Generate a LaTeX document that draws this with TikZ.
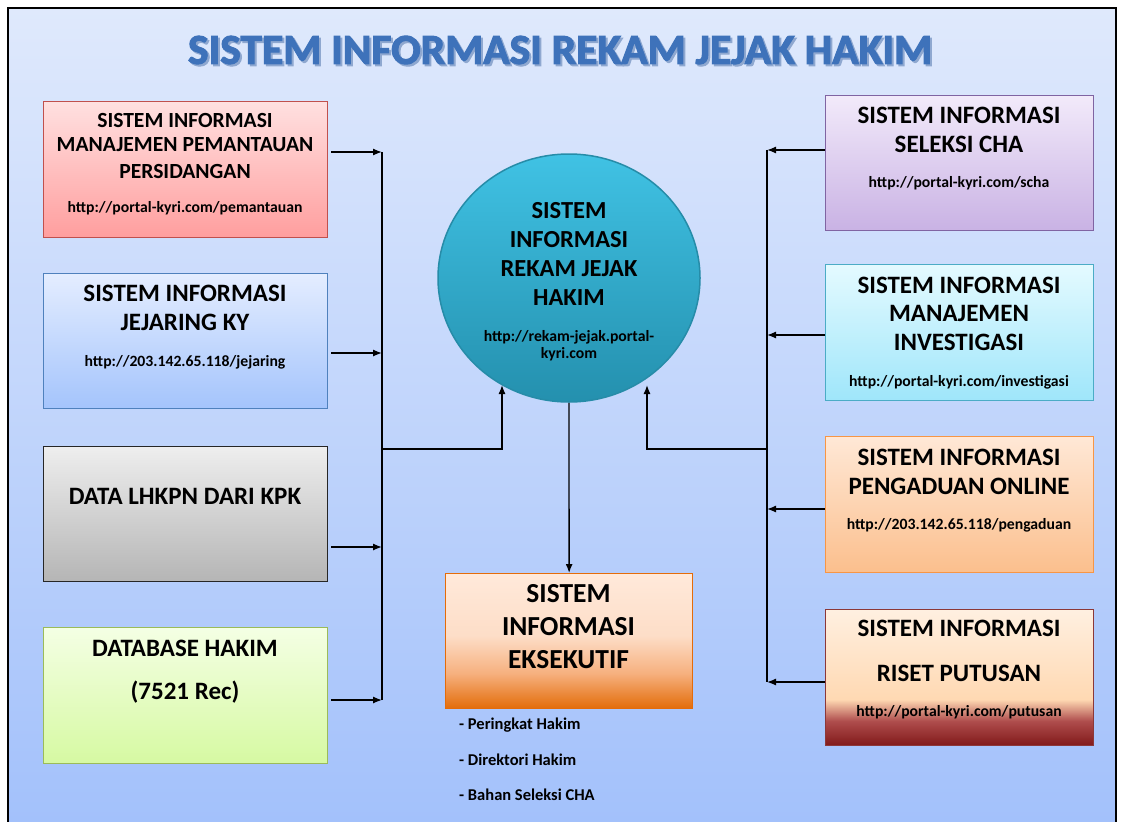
\documentclass[tikz,border=0pt]{standalone}
\usepackage{fontspec}
\usepackage{graphicx}
\setmainfont{Carlito}
\newfontfamily\titlefont[BoldFont={Carlito Bold}, BoldFeatures={FakeBold=2.5}]{Carlito}
\usetikzlibrary{shapes.geometric,arrows.meta,calc}
\definecolor{bgtop}{HTML}{DFE9FC}
\definecolor{bgbot}{HTML}{A3C1FB}
\definecolor{titleblue}{HTML}{3E72BA}
\definecolor{titleshadow}{HTML}{8FA8D0}
\pgfdeclareverticalshading{rsshade}{100bp}{color(0bp)=(red!45!black!90!white); color(25bp)=(red!45!black!90!white); color(34bp)=(red!55!black!70!white); color(42bp)=(orange!30!white); color(75bp)=(orange!12!white); color(100bp)=(orange!12!white)}
\definecolor{exdark}{HTML}{E36C09}
\definecolor{exmid}{HTML}{F6B07E}
\definecolor{extop}{HTML}{FFE9DA}
\pgfdeclareverticalshading{exshade}{100bp}{color(0bp)=(exdark); color(25bp)=(exdark); color(38bp)=(exmid); color(52bp)=(extop!80!exmid); color(75bp)=(extop); color(100bp)=(extop)}
\begin{document}
\begin{tikzpicture}[x=1pt,y=-1pt,
  box/.style={draw, line width=1.3pt, rectangle, inner sep=0pt, anchor=north west},
  hd/.style={font=\bfseries\fontsize{25}{28}\selectfont, inner sep=0pt},
  hds/.style={font=\bfseries\fontsize{21.6}{25}\selectfont, inner sep=0pt},
  url/.style={font=\bfseries\fontsize{15.7}{18}\selectfont, inner sep=0pt},
  bul/.style={font=\bfseries\fontsize{16.5}{19}\selectfont, inner sep=0pt, anchor=west},
  arr/.style={-{Latex[length=9pt,width=7pt]}, line width=1.3pt},
  bus/.style={line width=1.3pt}]
\useasboundingbox (0,0) rectangle (1122,822);
\fill[white] (0,0) rectangle (1122,822);
\shade[top color=bgtop, bottom color=bgbot] (8,8) rectangle (1116,822);
\draw[line width=1.2pt] (8,822) -- (8,8) -- (1116,8) -- (1116,822);

% title
\node[text=titleshadow, font=\titlefont\bfseries, inner sep=0pt] at (562,52) {\resizebox{744pt}{28pt}{SISTEM INFORMASI REKAM JEJAK HAKIM}};
\node[text=titleblue, font=\titlefont\bfseries, inner sep=0pt] (title) at (560,50) {\resizebox{744pt}{28pt}{SISTEM INFORMASI REKAM JEJAK HAKIM}};

% left boxes
\node[box, draw={rgb,255:red,192;green,80;blue,77}, top color={rgb,255:red,255;green,224;blue,224}, bottom color={rgb,255:red,255;green,158;blue,158}, minimum width=284, minimum height=136] (b1) at (43,101) {};
\node[hds] (b1a) at (185,120) {SISTEM INFORMASI};
\node[hds] (b1b) at (185,145) {MANAJEMEN PEMANTAUAN};
\node[hds] (b1c) at (185,171) {PERSIDANGAN};
\node[url] (b1u) at (185,208) {http://portal-kyri.com/pemantauan};

\node[box, draw={rgb,255:red,79;green,129;blue,189}, top color={rgb,255:red,228;green,237;blue,255}, bottom color={rgb,255:red,164;green,196;blue,252}, minimum width=284, minimum height=135] (b2) at (43,273) {};
\node[hd] (b2a) at (185,293) {SISTEM INFORMASI};
\node[hd] (b2b) at (185,322) {JEJARING KY};
\node[url] (b2u) at (185,362) {http://203.142.65.118/jejaring};

\node[box, draw={rgb,255:red,38;green,38;blue,38}, top color={rgb,255:red,238;green,238;blue,238}, bottom color={rgb,255:red,181;green,181;blue,181}, minimum width=284, minimum height=135] (b3) at (43,446) {};
\node[hd] (b3a) at (185,496) {DATA LHKPN DARI KPK};

\node[box, draw={rgb,255:red,155;green,187;blue,89}, top color={rgb,255:red,244;green,255;blue,228}, bottom color={rgb,255:red,214;green,249;blue,162}, minimum width=284, minimum height=136] (b4) at (43,627) {};
\node[hd] (b4a) at (185,648) {DATABASE HAKIM};
\node[hd] (b4b) at (185,692) {(7521 Rec)};

% right boxes
\node[box, draw={rgb,255:red,128;green,100;blue,162}, top color={rgb,255:red,242;green,234;blue,250}, bottom color={rgb,255:red,201;green,178;blue,228}, minimum width=268, minimum height=135] (r1) at (825,95) {};
\node[hd] (r1a) at (959,115) {SISTEM INFORMASI};
\node[hd] (r1b) at (959,144) {SELEKSI CHA};
\node[url] (r1u) at (959,183) {http://portal-kyri.com/scha};

\node[box, draw={rgb,255:red,75;green,172;blue,198}, top color={rgb,255:red,228;green,250;blue,255}, bottom color={rgb,255:red,159;green,230;blue,250}, minimum width=268, minimum height=136] (r2) at (825,264) {};
\node[hd] (r2a) at (959,285) {SISTEM INFORMASI};
\node[hd] (r2b) at (959,313) {MANAJEMEN};
\node[hd] (r2c) at (959,342) {INVESTIGASI};
\node[url] (r2u) at (959,382) {http://portal-kyri.com/investigasi};

\node[box, draw={rgb,255:red,247;green,150;blue,70}, top color={rgb,255:red,255;green,232;blue,214}, bottom color={rgb,255:red,251;green,191;blue,141}, minimum width=268, minimum height=136] (r3) at (825,436) {};
\node[hd] (r3a) at (959,457) {SISTEM INFORMASI};
\node[hd] (r3b) at (959,486) {PENGADUAN ONLINE};
\node[url] (r3u) at (959,525) {http://203.142.65.118/pengaduan};

\node[box, draw={rgb,255:red,140;green,56;blue,56}, shading=rsshade, minimum width=268, minimum height=136] (r4) at (825,609) {};
\node[hd] (r4a) at (959,628) {SISTEM INFORMASI};
\node[hd] (r4b) at (959,673) {RISET PUTUSAN};
\node[url] (r4u) at (959,712) {http://portal-kyri.com/putusan};

% central ellipse
\node[ellipse, draw={rgb,255:red,38;green,140;blue,168}, line width=1.5pt, top color={rgb,255:red,64;green,194;blue,228}, bottom color={rgb,255:red,36;green,144;blue,174}, minimum width=262, minimum height=248, inner sep=0pt] (c) at (569,278) {};
\node[font=\bfseries\fontsize{24.5}{29}\selectfont, align=center, inner sep=0pt] (ct) at (569,254) {SISTEM\\INFORMASI\\REKAM JEJAK\\HAKIM};
\node[url, align=center, font=\bfseries\fontsize{15.7}{17}\selectfont] (cu) at (569,346) {http://rekam-jejak.portal-\\kyri.com};

% executive box
\node[box, draw={rgb,255:red,228;green,108;blue,10}, shading=exshade, minimum width=247, minimum height=135] (ex) at (445,573) {};
\node[font=\bfseries\fontsize{27.5}{33}\selectfont, align=center, inner sep=0pt] (ext) at (568.5,627) {SISTEM\\INFORMASI\\EKSEKUTIF};
\node[bul] (e1) at (459,725) {- Peringkat Hakim};
\node[bul] (e2) at (459,760) {- Direktori Hakim};
\node[bul] (e3) at (459,795) {- Bahan Seleksi CHA};

% left bus
\coordinate (L1) at (382,152);
\coordinate (L2) at (382,353);
\coordinate (L3) at (382,547);
\coordinate (L4) at (382,700);
\coordinate (LJ) at (382,449);
\draw[bus] (L1) -- (L4);
\draw[arr] ([xshift=3pt]b1.east |- L1) -- (L1);
\draw[arr] ([xshift=3pt]b2.east |- L2) -- (L2);
\draw[arr] ([xshift=3pt]b3.east |- L3) -- (L3);
\draw[arr] ([xshift=3pt]b4.east |- L4) -- (L4);
\coordinate (CL) at (502,385);
\draw[arr] (LJ) -| (CL);

% right bus
\coordinate (R1) at (767,150);
\coordinate (R2) at (767,335);
\coordinate (R3) at (767,509);
\coordinate (R4) at (767,682);
\coordinate (RJ) at (767,449);
\draw[bus] (R1) -- (R4);
\draw[arr] (r1.west |- R1) -- (R1);
\draw[arr] (r2.west |- R2) -- (R2);
\draw[arr] (r3.west |- R3) -- (R3);
\draw[arr] (r4.west |- R4) -- (R4);
\coordinate (CR) at (647,385);
\draw[arr] (RJ) -| (CR);

% down to executive
\draw[arr] (c.south) -- (ex.north);
\end{tikzpicture}
\end{document}
